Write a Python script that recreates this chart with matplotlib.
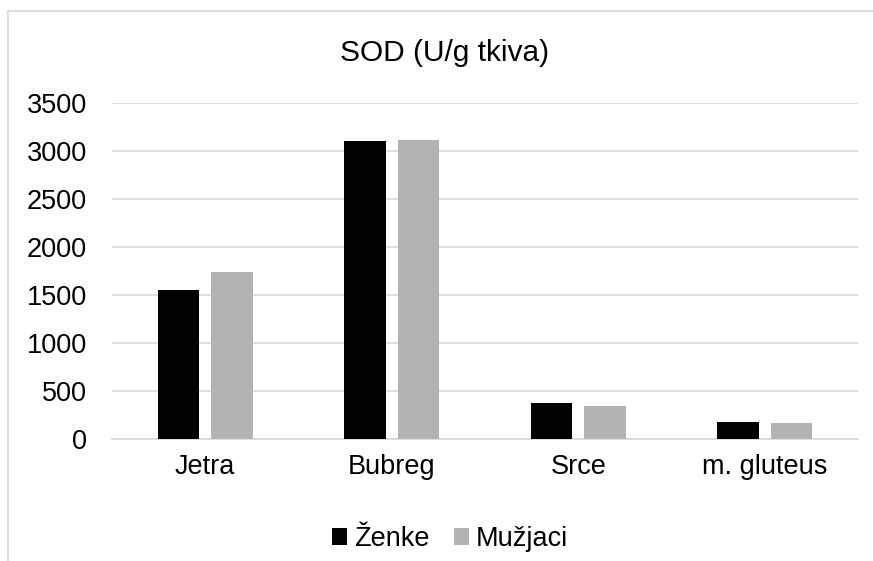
import numpy as np
import matplotlib.pyplot as plt
from matplotlib.lines import Line2D

plt.rcParams['font.family'] = ['Liberation Sans', 'DejaVu Sans']

categories = ['Jetra', 'Bubreg', 'Srce', 'm. gluteus']
zenke = [1553, 3098, 371, 174]
muzjaci = [1736, 3115, 340, 160]
series_names = ['Ženke', 'Mužjaci']

fig = plt.figure(figsize=(8.73, 5.61), dpi=100)
ax = fig.add_axes([112 / 873, 1 - 438.7 / 561, 746 / 873, (438.7 - 102.6) / 561])

x = np.arange(len(categories))
w = 0.222
ax.bar(x - 0.144, zenke, w, color='black', label=series_names[0], zorder=3)
ax.bar(x + 0.144, muzjaci, w, color='#b3b3b3', label=series_names[1], zorder=3)

ax.set_xlim(-0.5, len(categories) - 0.5)
ax.set_ylim(0, 3500)
ax.set_yticks(np.arange(0, 3501, 500))
ax.set_xticks(x)
ax.set_xticklabels(categories, fontsize=19.5)
ax.tick_params(axis='y', labelsize=19.5, length=0, pad=18)
ax.tick_params(axis='x', length=0, pad=11)
ax.grid(axis='y', color='#d9d9d9', linewidth=1.2, zorder=0)
for s in ['top', 'right', 'left']:
    ax.spines[s].set_visible(False)
ax.spines['bottom'].set_color('#d9d9d9')
ax.spines['bottom'].set_linewidth(1.2)

fig.text(445 / 873, 1 - 53 / 561, 'SOD (U/g tkiva)', fontsize=21.5, ha='center', va='center')

ax.legend(loc='center', bbox_to_anchor=(450 / 873, 1 - 539 / 561), bbox_transform=fig.transFigure,
          ncol=2, frameon=False, fontsize=19.5, handlelength=0.55, handleheight=0.55,
          handletextpad=0.25, columnspacing=0.9)

# chart border (cropped at right and bottom)
fig.add_artist(Line2D([7.5 / 873, 1], [1 - 11 / 561, 1 - 11 / 561], color='#d9d9d9', lw=1.2))
fig.add_artist(Line2D([7.5 / 873, 7.5 / 873], [0, 1 - 11 / 561], color='#d9d9d9', lw=1.2))

fig.savefig('out.png', dpi=100)
